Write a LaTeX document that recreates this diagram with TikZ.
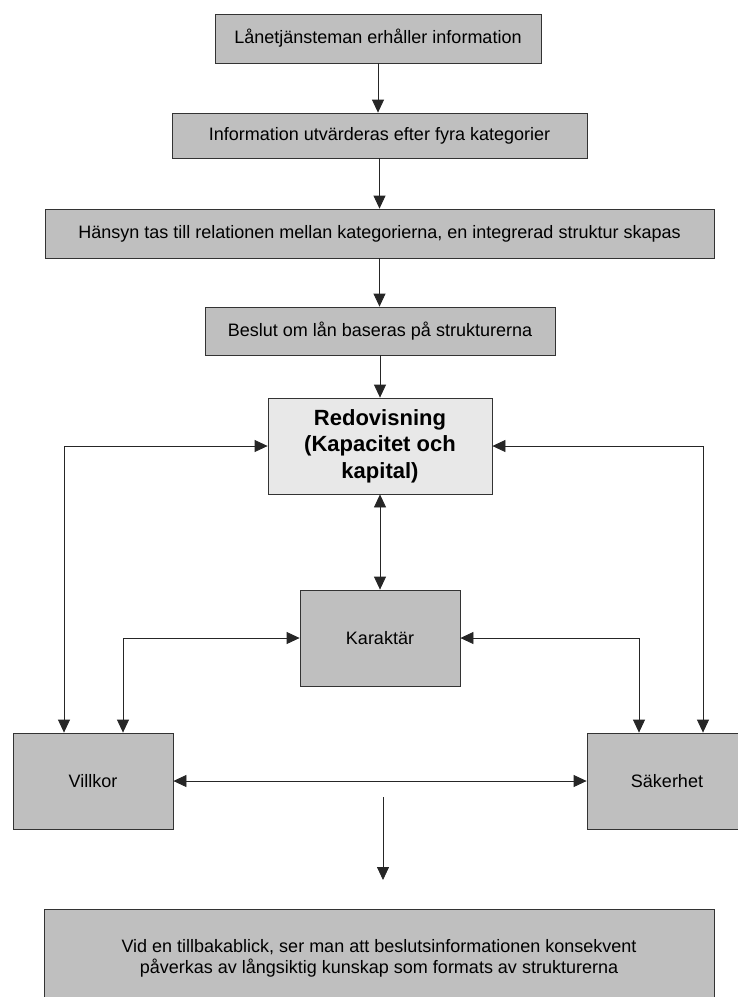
\documentclass[tikz,border=0pt]{standalone}
\usepackage{fontspec}
\setmainfont{Liberation Sans}
\usetikzlibrary{arrows.meta}

\begin{document}
\begin{tikzpicture}[x=1pt,y=-1pt,
    every node/.style={inner sep=0pt, font=\fontsize{18}{20.7}\selectfont},
    box/.style={draw=black!80, fill=black!25, line width=0.8pt, align=center},
    tip/.style={draw=black!85, line width=0.8pt, -{Triangle[length=13pt,width=12pt]}},
    both/.style={draw=black!85, line width=0.8pt, {Triangle[length=13pt,width=12pt]}-{Triangle[length=13pt,width=12pt]}}]
  \useasboundingbox (0,0) rectangle (738,997);
  \clip (0,0) rectangle (738,997);

  \node[box, minimum width=326pt, minimum height=49pt] (info) at (378,38.5) {Lånetjänsteman erhåller information};
  \node[box, minimum width=415pt, minimum height=45pt] (eval) at (379.5,135.5) {Information utvärderas efter fyra kategorier};
  \node[box, minimum width=669pt, minimum height=49pt] (rel) at (379.5,233.5) {Hänsyn tas till relationen mellan kategorierna, en integrerad struktur skapas};
  \node[box, minimum width=350pt, minimum height=48pt] (beslut) at (380,331) {Beslut om lån baseras på strukturerna};
  \node[box, fill=black!9, minimum width=224pt, minimum height=96pt,
        font=\bfseries\fontsize{22}{26.5}\selectfont] (redo) at (380,446) {Redovisning\\(Kapacitet och\\kapital)};
  \node[box, minimum width=160pt, minimum height=96pt] (kar) at (380,638) {Karaktär};
  \node[box, minimum width=160pt, minimum height=96pt] (vill) at (93,781) {Villkor};
  \node[box, minimum width=160pt, minimum height=96pt] (sak) at (667,781) {Säkerhet};
  \node[box, minimum width=670pt, minimum height=98pt] (tillbaka) at (379,958) {Vid en tillbakablick, ser man att beslutsinformationen konsekvent\\påverkas av långsiktig kunskap som formats av strukturerna};

  \coordinate (drop) at (383,797);
  \coordinate (land) at (383,880);

  \draw[tip] (info.south) -- (info.south |- eval.north);
  \draw[tip] (eval.south) -- (eval.south |- rel.north);
  \draw[tip] (rel.south) -- (rel.south |- beslut.north);
  \draw[tip] (beslut.south) -- (redo.north);
  \draw[both] (redo.south) -- (kar.north);
  \draw[both] (redo.west) -| ([xshift=-29pt]vill.north);
  \draw[both] (redo.east) -| ([xshift=36pt]sak.north);
  \draw[both] (kar.west) -| ([xshift=30pt]vill.north);
  \draw[both] (kar.east) -| ([xshift=-28pt]sak.north);
  \draw[both] (vill.east) -- (sak.west);
  \draw[tip] (drop) -- (land);
\end{tikzpicture}
\end{document}
